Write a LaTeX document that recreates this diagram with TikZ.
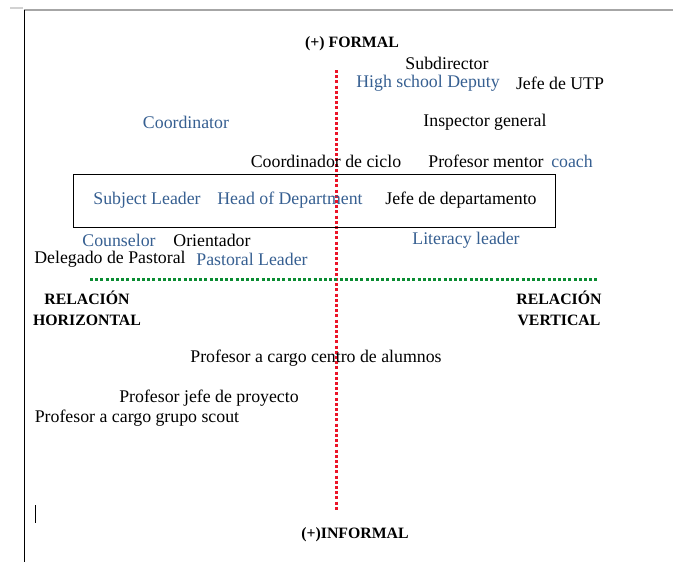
\documentclass[tikz,border=0pt]{standalone}
\usepackage{fontspec}
\setmainfont{Liberation Serif}
\definecolor{wblue}{RGB}{54,95,145}
\definecolor{dgreen}{RGB}{10,140,50}
\definecolor{dred}{RGB}{235,20,40}
\begin{document}
\begin{tikzpicture}[x=1pt,y=-1pt,
  lbl/.style={inner sep=0pt,font=\fontsize{17.8}{20}\selectfont},
  en/.style={lbl,text=wblue},
  es/.style={lbl,text=black},
  hd/.style={inner sep=0pt,font=\fontsize{15.8}{21}\selectfont\bfseries,align=center},
  dotline/.style={line width=3pt,dash pattern=on 3pt off 2.2pt}]
\useasboundingbox (0,0) rectangle (673,562);
% page frame
\draw[gray!70,line width=2pt] (24,10) -- (673,10);
\draw[black,line width=0.9pt] (24.5,10) -- (24.5,562);
\draw[gray!35,line width=1.5pt] (10,8) -- (23,8);
% axes
\coordinate (vt) at (336,70);
\coordinate (vb) at (336,510);
\coordinate (hl) at (90,279);
\coordinate (hr) at (597,279);
\draw[dred,dotline] (vt) -- (vb);
\draw[dgreen,dotline] (hl) -- (hr);
% box
\node[draw,line width=0.8pt,minimum width=482pt,minimum height=53pt,inner sep=0pt] (box) at (314,200.5) {};
% cursor
\draw[line width=0.6pt] (35,505) -- (35,523);
% headings
\node[hd] (formal) at (352,44) {(+) FORMAL};
\node[hd] (informal) at (355,535) {(+)INFORMAL};
\node[hd] (rh) at (87,308.5) {RELACIÓN\\HORIZONTAL};
\node[hd] (rv) at (559,308.5) {RELACIÓN\\VERTICAL};
% labels
\node[es] (subdir) at (447,63) {Subdirector};
\node[en] (hsd) at (428,83) {High school Deputy};
\node[es] (utp) at (560,83) {Jefe de UTP};
\node[en] (coord) at (186,122) {Coordinator};
\node[es] (insp) at (485,122) {Inspector general};
\node[es] (cciclo) at (326,161) {Coordinador de ciclo};
\node[es] (pmentor) at (486,161) {Profesor mentor};
\node[en] (coach) at (572,161) {coach};
\node[en] (subj) at (147,200) {Subject Leader};
\node[en] (hod) at (290,200) {Head of Department};
\node[es] (jdep) at (461,200) {Jefe de departamento};
\node[en] (couns) at (119,240) {Counselor};
\node[es] (orient) at (212,240) {Orientador};
\node[en] (lit) at (466,240) {Literacy leader};
\node[es] (deleg) at (110,259) {Delegado de Pastoral};
\node[en] (past) at (252,259) {Pastoral Leader};
\node[es] (pcentro) at (316,358) {Profesor a cargo centro de alumnos};
\node[es] (pjefe) at (209,398) {Profesor jefe de proyecto};
\node[es] (pscout) at (137,418) {Profesor a cargo grupo scout};
\end{tikzpicture}
\end{document}
